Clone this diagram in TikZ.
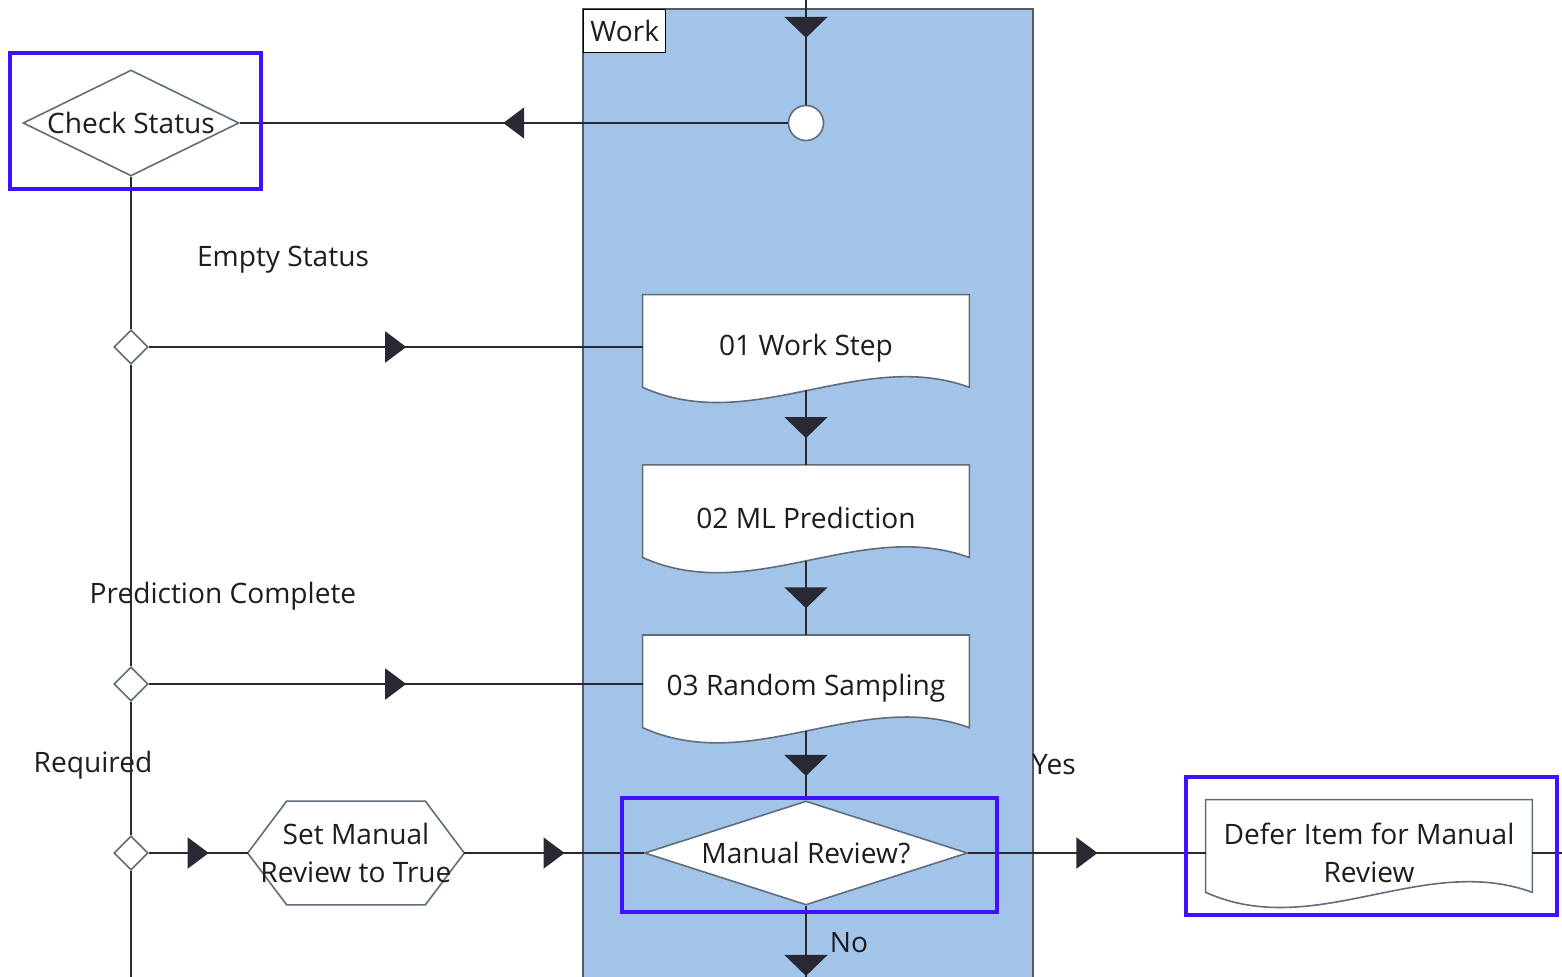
\documentclass[tikz,border=0pt]{standalone}
\usepackage{fontspec}
\setmainfont{Open Sans}
\usetikzlibrary{arrows.meta,positioning,shapes.geometric,decorations.markings,backgrounds}
\definecolor{lanefill}{RGB}{162,196,232}
\definecolor{laneline}{RGB}{88,88,96}
\definecolor{shapeline}{RGB}{96,108,122}
\definecolor{connline}{RGB}{42,40,50}
\definecolor{hlviolet}{RGB}{64,16,255}
\definecolor{labeltext}{RGB}{28,28,34}

\begin{document}
\begin{tikzpicture}[x=0.02cm, y=-0.02cm, node distance=1.27cm,
  every node/.style={font=\fontsize{16}{22}\selectfont, text=labeltext},
  docbox/.style={minimum width=6.52cm, minimum height=2.12cm, inner sep=0pt, align=center},
  decide/.style={diamond, draw=shapeline, fill=white, line width=0.9pt, inner sep=0pt},
  junction/.style={diamond, draw=shapeline, fill=white, line width=0.9pt, inner sep=0pt,
                   minimum width=0.68cm, minimum height=0.68cm},
  outline/.style={draw=shapeline, fill=white, line width=0.9pt},
  conn/.style={draw=connline, line width=1pt},
  hflow/.style={conn, postaction={decorate}, decoration={markings, mark=at position 0.5 with
     {\pgftransformxshift{0.21cm}\arrow[connline]{Triangle[length=0.42cm,width=0.62cm]}}}},
  vflow/.style={conn, postaction={decorate}, decoration={markings, mark=at position 0.5 with
     {\pgftransformxshift{0.21cm}\arrow[connline]{Triangle[length=0.42cm,width=0.86cm]}}}},
  hilite/.style={draw=hlviolet, line width=2.3pt}]
\useasboundingbox (0,0) rectangle (1562,977);
\clip (0,0) rectangle (1562,977);

% lane header
\node[draw=black, fill=white, line width=0.8pt, minimum width=1.64cm, minimum height=0.86cm,
      inner sep=0pt, anchor=north west] (lanetag) at (583,9) {Work};

% decision on the left
\node[decide, minimum width=4.32cm, minimum height=2.12cm] (chk) at (131,123) {\makebox[0pt]{Check Status}};
\node[junction] (j1) at (131,347) {};
\node[junction] (j2) at (131,684) {};
\node[junction] (j3) at (131,853) {};
\node (lblempty) at (283,260) {Empty Status};
\node (lblpred) at (223,596) {Prediction Complete};
\node (lblreq) at (93,765) {Required};

% work lane steps
\node[circle, draw=shapeline, fill=white, line width=0.9pt, minimum size=0.7cm, inner sep=0pt] (circ) at (806,123) {};
\node[docbox] (s1) at (806,348) {01 Work Step};
\node[docbox, below=of s1] (s2) {02 ML Prediction};
\node[docbox, below=of s2] (s3) {03 Random Sampling};
\node[decide, minimum width=6.46cm, minimum height=2.08cm] (mr) at (806,853) {\makebox[0pt]{Manual Review?}};
\node[minimum width=4.32cm, minimum height=2.06cm, inner sep=0pt, align=center] (setrev) at (356,853) {Set Manual\\Review to True};
\node[docbox] (defer) at (1369,853) {Defer Item for Manual\\Review};
\node (lblyes) at (1054,765) {Yes};
\node (lblno) at (849,943) {No};

\coordinate (top) at (806,-50);
\coordinate (bot) at (806,1025);
\coordinate (leftend) at (131,1000);
\coordinate (rightend) at (1600,853);

\begin{scope}[on background layer]
  \fill[lanefill] (583,9) rectangle (1033,977);
  \draw[laneline, line width=1pt] (583,977) -- (583,9) -- (1033,9) -- (1033,977);
  \foreach \n in {s1,s2,s3,defer}
    \draw[outline] (\n.north west) -- (\n.north east) -- ([yshift=0.28cm]\n.south east)
      .. controls +(-109,-40) and +(109,49) .. ([yshift=0.28cm]\n.south west) -- cycle;
  \draw[outline] (setrev.west) -- ([xshift=0.78cm]setrev.north west) -- ([xshift=-0.78cm]setrev.north east)
    -- (setrev.east) -- ([xshift=-0.78cm]setrev.south east) -- ([xshift=0.78cm]setrev.south west) -- cycle;
\end{scope}

% connectors
\draw[vflow] (top) -- (circ.north);
\draw[hflow] (circ.west) -- (chk.east);
\draw[conn] (chk.south) -- (j1.north);
\draw[conn] (j1.south) -- (j2.north);
\draw[conn] (j2.south) -- (j3.north);
\draw[conn] (j3.south) -- (leftend);
\draw[hflow] (j1.east) -- (j1 -| s1.west);
\draw[hflow] (j2.east) -- (j2 -| s3.west);
\draw[hflow] (j3.east) -- (setrev.west);
\draw[hflow] (setrev.east) -- (mr.west);
\draw[vflow] ([yshift=0.22cm]s1.south) -- (s2.north);
\draw[vflow] ([yshift=0.22cm]s2.south) -- (s3.north);
\draw[vflow] ([yshift=0.22cm]s3.south) -- (mr.north);
\draw[hflow] (mr.east) -- (defer.west);
\draw[conn] (defer.east) -- (rightend);
\draw[vflow] (mr.south) -- (bot);

% highlights
\draw[hilite] (10,53) rectangle (261,189);
\draw[hilite] (622,798) rectangle (997,912);
\draw[hilite] (1186,777) rectangle (1557,915);
\end{tikzpicture}
\end{document}
